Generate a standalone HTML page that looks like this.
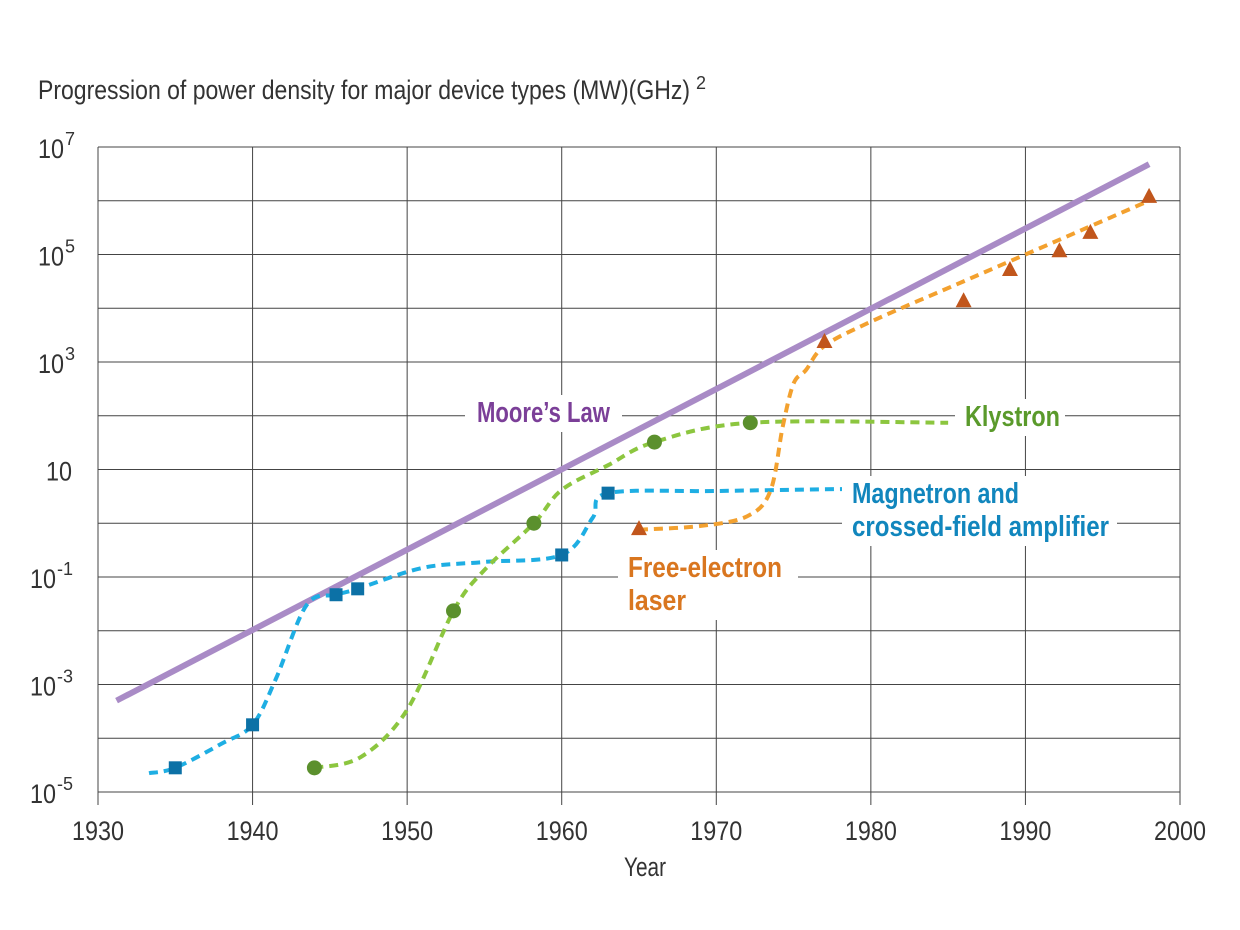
<!DOCTYPE html>
<html><head><meta charset="utf-8"><style>
body{margin:0;background:#fff;}
svg{display:block;font-family:"Liberation Sans Narrow","Liberation Sans",sans-serif;}
</style></head><body>
<svg id="chart" width="1240" height="930" viewBox="0 0 1240 930" xmlns="http://www.w3.org/2000/svg">
<text x="38" y="99" font-size="27" fill="#333" textLength="652" lengthAdjust="spacingAndGlyphs">Progression of power density for major device types (MW)(GHz)</text>
<text x="696" y="89" font-size="18" fill="#333">2</text>
<g id="grid"></g><g id="series"></g><g id="labels"></g>
<text x="624" y="876" font-size="27" fill="#333" textLength="42" lengthAdjust="spacingAndGlyphs">Year</text>
</svg>
<script>
const xTicks=[1930,1940,1950,1960,1970,1980,1990,2000];
const yDecades=[-5,-4,-3,-2,-1,0,1,2,3,4,5,6,7];
const yLabelExp=[7,5,3,1,-1,-3,-5];
const mooreYears=[1931.2,1998];
const mooreVals=[-3.3,6.68];
const magLineYears=[1933.3,1935,1938,1940,1941.5,1943.5,1945.4,1946.8,1951,1955,1960,1962,1963,1970,1979];
const magLineVals=[-4.65,-4.55,-4.1,-3.75,-2.9,-1.52,-1.33,-1.22,-0.83,-0.72,-0.59,0.1,0.56,0.6,0.64];
const magPtYears=[1935,1940,1945.4,1946.8,1960,1963];
const magPtVals=[-4.55,-3.75,-1.33,-1.22,-0.59,0.56];
const klyLineYears=[1944,1947,1950,1953,1955,1958.2,1960,1963,1966,1972.2,1985];
const klyLineVals=[-4.55,-4.35,-3.47,-1.63,-0.87,0.0,0.62,1.08,1.51,1.87,1.87];
const klyPtYears=[1944,1953,1958.2,1966,1972.2];
const klyPtVals=[-4.55,-1.63,0.0,1.51,1.87];
const felLineYears=[1965,1969,1972,1973.5,1974.3,1975,1975.8,1977,1980,1986,1990,1994,1998];
const felLineVals=[-0.12,-0.05,0.13,0.6,1.8,2.6,2.85,3.3,3.75,4.5,5.0,5.5,6.0];
const felPtYears=[1965,1977,1986,1989,1992.2,1994.2,1998];
const felPtVals=[-0.09,3.39,4.15,4.73,5.08,5.42,6.09];

const X=y=>98+(y-1930)*1082/70;
const Y=v=>147+(7-v)*53.75;
const NS="http://www.w3.org/2000/svg";
function mk(tag,attrs,parent){const e=document.createElementNS(NS,tag);for(const k in attrs)e.setAttribute(k,attrs[k]);parent.appendChild(e);return e;}
const grid=document.getElementById('grid'),ser=document.getElementById('series'),lab=document.getElementById('labels');
yDecades.forEach(d=>{const l=mk('line',{x1:98,x2:1180,y1:Y(d),y2:Y(d),stroke:'#444','stroke-width':1},grid);

});
xTicks.forEach(t=>{const l=mk('line',{x1:X(t),x2:X(t),y1:147,y2:805,stroke:'#444','stroke-width':1},grid);


const tx=mk('text',{x:X(t)-26,y:840,'font-size':27,fill:'#333',textLength:52,lengthAdjust:'spacingAndGlyphs'},grid);tx.textContent=t;

});
yLabelExp.forEach(e=>{
const hasExp=e!==1;
const tx=mk('text',{x:hasExp?(e<0?30:38):46,y:Y(e)+11,'font-size':27,fill:'#333',textLength:26,lengthAdjust:'spacingAndGlyphs'},grid);


tx.textContent='10';
if(hasExp){const s=mk('text',{x:e<0?57:65,y:Y(e)-2,'font-size':18,fill:'#333'},grid);s.textContent=String(e);

}});
function smooth(xs,vs){const p=xs.map((x,i)=>[X(x),Y(vs[i])]);let d=`M${p[0][0]},${p[0][1]}`;
for(let i=0;i<p.length-1;i++){const p0=p[i-1]||p[i],p1=p[i],p2=p[i+1],p3=p[i+2]||p2;
const c1=[p1[0]+(p2[0]-p0[0])/6,p1[1]+(p2[1]-p0[1])/6],c2=[p2[0]-(p3[0]-p1[0])/6,p2[1]-(p3[1]-p1[1])/6];
d+=` C${c1[0]},${c1[1]} ${c2[0]},${c2[1]} ${p2[0]},${p2[1]}`;}return d;}
const m=mk('line',{x1:X(mooreYears[0]),y1:Y(mooreVals[0]),x2:X(mooreYears[1]),y2:Y(mooreVals[1]),stroke:'#a98bc6','stroke-width':6},ser);


function dashed(xs,vs,col,name){const p=mk('path',{d:smooth(xs,vs),fill:'none',stroke:col,'stroke-width':4,'stroke-dasharray':'9 6'},ser);

}
dashed(magLineYears,magLineVals,'#1eaee3','magnetron-line');
dashed(klyLineYears,klyLineVals,'#8cc63f','klystron-line');
dashed(felLineYears,felLineVals,'#f3a12f','fel-line');
magPtYears.forEach((y,i)=>{const r=mk('rect',{x:X(y)-6.5,y:Y(magPtVals[i])-6.5,width:13,height:13,fill:'#0c71a6'},ser);

});
klyPtYears.forEach((y,i)=>{const c=mk('circle',{cx:X(y),cy:Y(klyPtVals[i]),r:7.5,fill:'#5b902d'},ser);

});
felPtYears.forEach((y,i)=>{const cx=X(y),cy=Y(felPtVals[i]);const t=mk('polygon',{points:`${cx},${cy-8} ${cx+8},${cy+7} ${cx-8},${cy+7}`,fill:'#c1561c'},ser);

});
function label(lines,widths,x,y,col,name,bx,bw){mk('rect',{x:bx,y:y-27,width:bw,height:lines.length*33+4,fill:'#fff'},lab);
lines.forEach((s,i)=>{const t=mk('text',{x:x,y:y+i*33,'font-size':29,'font-weight':'bold',fill:col,textLength:widths[i],lengthAdjust:'spacingAndGlyphs'},lab);t.textContent=s;

});}
label(["Moore’s Law"],[133],477,422,'#7b3f98','moores-law-label',465,157);
label(["Klystron"],[95],965,426,'#5a9a2b','klystron-label',955,110);
label(["Magnetron and","crossed-field amplifier"],[167,257],852,503,'#1186bd','magnetron-label',842,275);
label(["Free-electron","laser"],[154,58],628,577,'#d9761f','fel-label',618,180);
</script>
</body></html>
